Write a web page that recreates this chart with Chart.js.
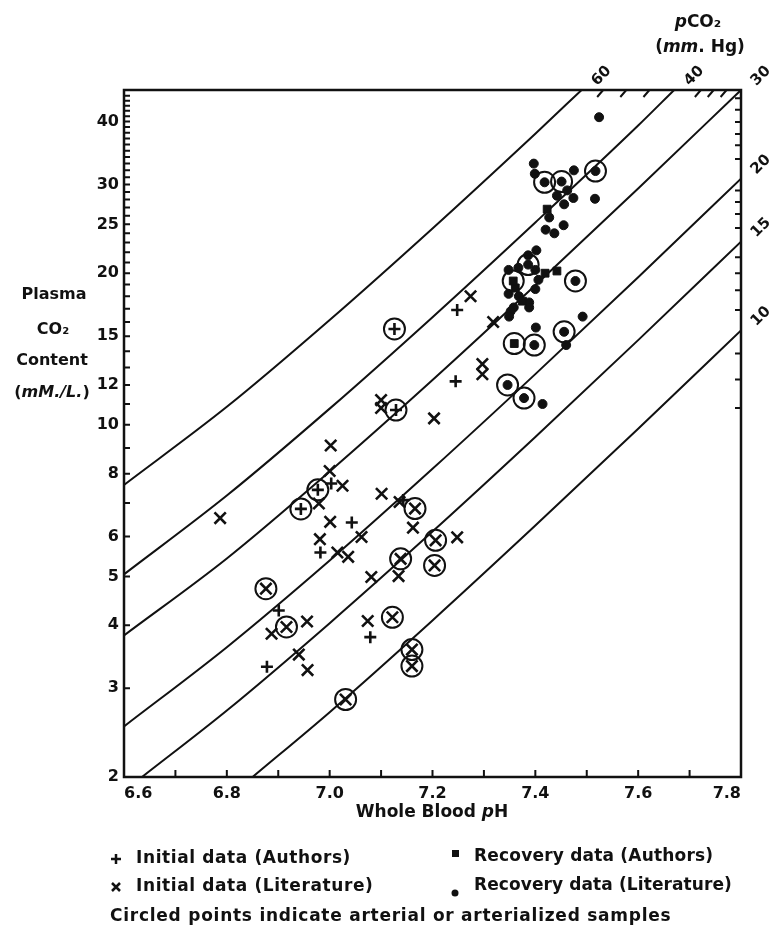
<!DOCTYPE html>
<html>
<head>
<meta charset="utf-8">
<script src="https://cdn.jsdelivr.net/npm/chart.js@4.4.1/dist/chart.umd.min.js"></script>
<style>
  html, body { margin: 0; padding: 0; background: #fff; }
  #wrap { position: relative; width: 774px; height: 930px; }
</style>
</head>
<body>
<div id="wrap"><canvas id="phChart"></canvas></div>
<script>
const INK = '#111';
const FONT = '"DejaVu Sans", sans-serif';

// axis ranges
const PH_MIN = 6.6, PH_MAX = 7.8;
const CO2_MIN = 2, CO2_MAX = 46.2;

// tick labels
const phLabels = [6.6, 6.8, 7.0, 7.2, 7.4, 7.6, 7.8];
const co2Labels = [2, 3, 4, 5, 6, 8, 10, 12, 15, 20, 25, 30, 40];
// inward tick marks
const phTicks = [6.7, 6.8, 6.9, 7.0, 7.1, 7.2, 7.3, 7.4, 7.5, 7.6, 7.7];
const co2Ticks = [3, 4, 5, 6, 7, 8, 9, 10, 11, 12, 13, 14, 15, 16, 17, 18, 19, 20,
  21, 22, 23, 24, 25, 26, 27, 28, 29, 30, 31, 32, 33, 34, 35, 36, 37, 38, 39, 40,
  41, 42, 43, 44, 45];
// pCO2 scale ticks along right edge (CO2 content) and top edge (pH)
const rightEdgeTicks = [44.5, 42.2, 39.9, 37.8, 35.9, 33.7, 29.2, 27.7, 26.2, 24.6,
  21.5, 20.0, 18.5, 16.9, 13.85, 12.3, 10.8];
const topEdgeTicks = [7.53, 7.575, 7.62, 7.72, 7.745, 7.77];

// pCO2 isopleths, [pH, CO2 content]
const pco2Labels = ['60', '40', '30', '20', '15', '10'];
const iso60 = [[6.6, 7.6], [6.8, 10.86], [7.0, 16.15], [7.2, 24.54], [7.4, 37.84], [7.49, 46.2]];
const iso40 = [[6.6, 5.05], [6.8, 7.24], [7.0, 10.77], [7.2, 16.36], [7.4, 25.22], [7.6, 39.27], [7.67, 46.2]];
const iso30 = [[6.6, 3.82], [6.8, 5.43], [7.0, 8.08], [7.2, 12.27], [7.4, 18.92], [7.6, 29.46], [7.8, 46.2]];
const iso20 = [[6.6, 2.52], [6.8, 3.62], [7.0, 5.38], [7.2, 8.18], [7.4, 12.61], [7.6, 19.64], [7.8, 30.8]];
const iso15 = [[6.635, 2.0], [6.8, 2.71], [7.0, 4.04], [7.2, 6.14], [7.4, 9.46], [7.6, 14.73], [7.8, 23.1]];
const iso10 = [[6.85, 2.0], [7.0, 2.69], [7.2, 4.09], [7.4, 6.31], [7.6, 9.82], [7.8, 15.4]];

// + initial data (authors)
const plusPts = [[7.248, 16.9], [7.245, 12.2], [7.003, 7.65], [7.143, 7.09], [7.043, 6.40],
  [6.982, 5.58], [6.901, 4.28], [7.079, 3.79], [6.878, 3.31]];
const plusCircled = [[7.126, 15.5], [7.129, 10.7], [6.977, 7.43], [6.944, 6.81]];
// x initial data (literature)
const crossPts = [[7.274, 18.0], [7.318, 16.0], [7.297, 13.2], [7.297, 12.6], [7.100, 11.2],
  [7.100, 10.8], [7.203, 10.3], [7.002, 9.1], [7.000, 8.1], [7.025, 7.57], [6.979, 6.98],
  [6.787, 6.53], [7.101, 7.30], [7.136, 7.03], [7.001, 6.42], [7.062, 5.99], [6.981, 5.93],
  [7.162, 6.25], [7.248, 5.98], [7.015, 5.58], [7.036, 5.47], [7.081, 4.99], [7.134, 5.01],
  [6.887, 3.85], [6.956, 4.07], [7.074, 4.08], [6.940, 3.50], [6.957, 3.26]];
const crossCircled = [[7.166, 6.82], [7.206, 5.90], [7.138, 5.42], [7.204, 5.26], [6.876, 4.73],
  [6.916, 3.97], [7.122, 4.15], [7.160, 3.58], [7.160, 3.32], [7.031, 2.85]];
// squares: recovery data (authors)
const squarePts = [[7.423, 26.8], [7.419, 20.0], [7.442, 20.2], [7.361, 18.7], [7.375, 17.6]];
const squareCircled = [[7.357, 19.3], [7.359, 14.5]];
// dots: recovery data (literature)
const dotPts = [[7.524, 40.8], [7.397, 33.0], [7.399, 31.5], [7.475, 32.0], [7.442, 28.5],
  [7.462, 29.2], [7.474, 28.2], [7.456, 27.4], [7.516, 28.1], [7.427, 25.8], [7.420, 24.4],
  [7.437, 24.0], [7.455, 24.9], [7.402, 22.2], [7.386, 21.7], [7.348, 20.3], [7.367, 20.5],
  [7.400, 20.3], [7.406, 19.4], [7.400, 18.6], [7.348, 18.2], [7.368, 18.0], [7.388, 17.5],
  [7.388, 17.1], [7.358, 17.1], [7.352, 16.8], [7.349, 16.4], [7.492, 16.4], [7.401, 15.6],
  [7.460, 14.4], [7.414, 11.0]];
const dotCircled = [[7.418, 30.3], [7.451, 30.4], [7.517, 31.9], [7.386, 20.8], [7.478, 19.3],
  [7.456, 15.3], [7.398, 14.4], [7.346, 12.0], [7.378, 11.3]];

const toXY = pts => pts.map(p => ({ x: p[0], y: p[1] }));

function isoSet(pts, label) {
  return {
    label: label,
    data: toXY(pts),
    showLine: true,
    borderColor: INK,
    borderWidth: 2,
    pointRadius: 0,
    cubicInterpolationMode: 'monotone',
    order: 10
  };
}

function markSet(pts, style, radius, filled, width) {
  return {
    data: toXY(pts),
    pointStyle: style,
    pointRadius: radius,
    pointBorderWidth: width,
    pointBorderColor: INK,
    pointBackgroundColor: filled ? INK : 'rgba(0,0,0,0)',
    showLine: false,
    order: 1
  };
}

// draws a run of [text, italic] pieces, centred or left aligned
function drawParts(ctx, parts, x, y, size, align, spacing) {
  ctx.letterSpacing = (spacing || 0) + 'px';
  const fonts = parts.map(p => (p[1] ? 'italic ' : '') + 'bold ' + size + 'px ' + FONT);
  let total = 0;
  parts.forEach((p, i) => { ctx.font = fonts[i]; total += ctx.measureText(p[0]).width; });
  let cx = align === 'left' ? x : x - total / 2;
  ctx.textAlign = 'left';
  ctx.textBaseline = 'middle';
  parts.forEach((p, i) => {
    ctx.font = fonts[i];
    ctx.fillText(p[0], cx, y);
    cx += ctx.measureText(p[0]).width;
  });
  ctx.letterSpacing = '0px';
}

const decorations = {
  id: 'decorations',
  afterDraw(chart) {
    const { ctx, chartArea: a, scales: { x, y } } = chart;
    ctx.save();
    ctx.strokeStyle = INK;
    ctx.fillStyle = INK;

    // frame
    ctx.lineWidth = 2.5;
    ctx.strokeRect(a.left, a.top, a.right - a.left, a.bottom - a.top);

    // inward ticks
    ctx.lineWidth = 2;
    ctx.beginPath();
    co2Ticks.forEach(v => {
      const py = y.getPixelForValue(v);
      ctx.moveTo(a.left, py); ctx.lineTo(a.left + 6, py);
    });
    phTicks.forEach(v => {
      const px = x.getPixelForValue(v);
      ctx.moveTo(px, a.bottom); ctx.lineTo(px, a.bottom - 7);
    });
    rightEdgeTicks.forEach(v => {
      const py = y.getPixelForValue(v);
      ctx.moveTo(a.right, py); ctx.lineTo(a.right - 6, py);
    });
    topEdgeTicks.forEach(v => {
      const px = x.getPixelForValue(v);
      ctx.moveTo(px + 1, a.top); ctx.lineTo(px - 5, a.top + 7);
    });
    ctx.stroke();

    // pCO2 labels on the isopleth ends
    [iso60, iso40, iso30, iso20, iso15, iso10].forEach((line, i) => {
      const end = line[line.length - 1];
      const px = x.getPixelForValue(end[0]) + 20;
      const py = y.getPixelForValue(end[1]) - 14;
      ctx.save();
      ctx.translate(px, py);
      ctx.rotate(-Math.PI / 4);
      ctx.font = 'bold 15px ' + FONT;
      ctx.textAlign = 'center';
      ctx.textBaseline = 'middle';
      ctx.fillText(pco2Labels[i], 0, 0);
      ctx.restore();
    });

    // axis titles
    drawParts(ctx, [['p', true], ['CO₂', false]], 698, 23, 17);
    drawParts(ctx, [['(', false], ['mm', true], ['. Hg)', false]], 700, 48, 17);
    drawParts(ctx, [['Plasma', false]], 54, 295, 16);
    drawParts(ctx, [['CO₂', false]], 53, 330, 16);
    drawParts(ctx, [['Content', false]], 52, 361, 16);
    drawParts(ctx, [['(', false], ['mM./L.', true], [')', false]], 52, 393, 16);
    drawParts(ctx, [['Whole Blood ', false], ['p', true], ['H', false]], 432, 813, 17);

    // legend
    ctx.lineWidth = 2.5;
    ctx.beginPath();
    ctx.moveTo(111, 859); ctx.lineTo(121, 859);
    ctx.moveTo(116, 854); ctx.lineTo(116, 864);
    ctx.moveTo(112, 883); ctx.lineTo(120, 891);
    ctx.moveTo(120, 883); ctx.lineTo(112, 891);
    ctx.stroke();
    ctx.fillRect(452, 850, 7, 7);
    ctx.beginPath();
    ctx.arc(455, 893, 3.5, 0, Math.PI * 2);
    ctx.fill();
    drawParts(ctx, [['Initial data (Authors)', false]], 136, 859, 17, 'left', 0.6);
    drawParts(ctx, [['Initial data (Literature)', false]], 136, 887, 17, 'left', 0.6);
    drawParts(ctx, [['Recovery data (Authors)', false]], 474, 857, 17, 'left', 0.2);
    drawParts(ctx, [['Recovery data (Literature)', false]], 474, 886, 17, 'left', 0.1);
    drawParts(ctx, [['Circled points indicate arterial or arterialized samples', false]], 110, 917, 17, 'left', 0.75);
    ctx.restore();
  }
};

const circled = plusCircled.concat(crossCircled, squareCircled, dotCircled);

const chart = new Chart(document.getElementById('phChart'), {
  type: 'scatter',
  data: {
    datasets: [
      markSet(circled, 'circle', 10.5, false, 2),
      markSet(plusPts.concat(plusCircled), 'cross', 6, false, 2.6),
      markSet(crossPts.concat(crossCircled), 'crossRot', 8, false, 2.6),
      markSet(squarePts.concat(squareCircled), 'rect', 5.5, true, 1),
      markSet(dotPts.concat(dotCircled), 'circle', 4.5, true, 1),
      isoSet(iso60, '60'),
      isoSet(iso40, '40'),
      isoSet(iso30, '30'),
      isoSet(iso20, '20'),
      isoSet(iso15, '15'),
      isoSet(iso10, '10')
    ]
  },
  options: {
    responsive: true,
    maintainAspectRatio: false,
    animation: false,
    layout: { padding: { top: 90, right: 33, left: 0, bottom: 0 } },
    plugins: { legend: { display: false }, tooltip: { enabled: false } },
    scales: {
      x: {
        type: 'linear',
        min: PH_MIN,
        max: PH_MAX,
        grid: { display: false, drawTicks: false },
        border: { display: false },
        afterBuildTicks: s => { s.ticks = phLabels.map(v => ({ value: v })); },
        afterFit: s => { s.height = 153; },
        ticks: {
          align: 'inner',
          padding: 7,
          color: INK,
          font: { family: FONT, size: 16, weight: 'bold' },
          callback: v => v.toFixed(1)
        }
      },
      y: {
        type: 'logarithmic',
        min: CO2_MIN,
        max: CO2_MAX,
        grid: { display: false, drawTicks: false },
        border: { display: false },
        afterBuildTicks: s => { s.ticks = co2Labels.map(v => ({ value: v })); },
        afterFit: s => { s.width = 124; },
        ticks: {
          padding: 5,
          color: INK,
          font: { family: FONT, size: 16, weight: 'bold' },
          callback: v => String(v)
        }
      }
    }
  },
  plugins: [decorations]
});
</script>
</body>
</html>
